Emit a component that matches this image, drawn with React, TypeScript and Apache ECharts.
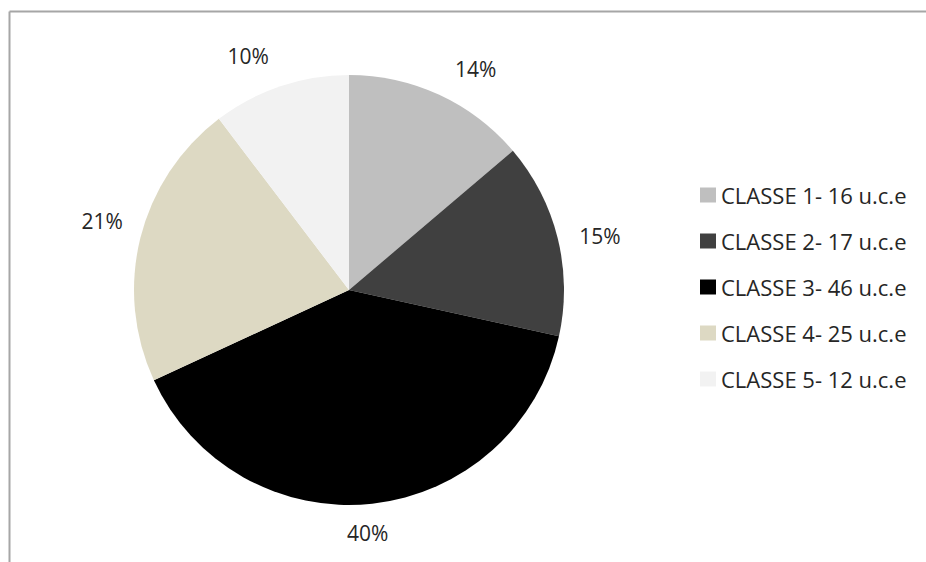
import React, { useEffect, useRef } from "react";
import * as echarts from "echarts";

const categories = [
  "CLASSE 1- 16 u.c.e",
  "CLASSE 2- 17 u.c.e",
  "CLASSE 3- 46 u.c.e",
  "CLASSE 4- 25 u.c.e",
  "CLASSE 5- 12 u.c.e",
];
const values = [16, 17, 46, 25, 12];
const percentLabels = ["14%", "15%", "40%", "21%", "10%"];
const colors = ["#bfbfbf", "#404040", "#000000", "#ddd9c3", "#f2f2f2"];
const labelOffsets: [number, number][] = [
  [19, 12],
  [2, 8],
  [-9, -12],
  [2, -7],
  [-19, 9],
];

export default function App() {
  const ref = useRef<HTMLDivElement>(null);
  useEffect(() => {
    if (!ref.current) return;
    const chart = echarts.init(ref.current, null, { renderer: "svg" });
    const center = [349, 290];
    chart.setOption({
      animation: false,
      backgroundColor: "#ffffff",
      color: colors,
      graphic: [
        {
          type: "line",
          shape: { x1: 9.5, y1: 11.5, x2: 926, y2: 11.5 },
          style: { stroke: "#a6a6a6", lineWidth: 2 },
          silent: true,
        },
        {
          type: "line",
          shape: { x1: 9.5, y1: 11.5, x2: 9.5, y2: 562 },
          style: { stroke: "#a6a6a6", lineWidth: 2 },
          silent: true,
        },
      ],
      legend: {
        orient: "vertical",
        left: 700,
        top: 184,
        padding: 0,
        itemWidth: 16,
        itemHeight: 15,
        itemGap: 24,
        icon: "rect",
        data: categories,
        textStyle: {
          fontFamily: "Open Sans",
          fontSize: 22,
          lineHeight: 22,
          color: "#262626",
          padding: [0, 0, 0, 0],
        },
        selectedMode: false,
      },
      series: [
        {
          type: "pie",
          center,
          radius: 215,
          startAngle: 90,
          clockwise: true,
          silent: true,
          label: { show: false },
          labelLine: { show: false },
          itemStyle: { borderWidth: 0 },
          data: categories.map((name, i) => ({
            name,
            value: values[i],
            itemStyle: { color: colors[i] },
          })),
        },
        {
          type: "pie",
          center,
          radius: [215, 292],
          startAngle: 90,
          clockwise: true,
          silent: true,
          labelLine: { show: false },
          itemStyle: { color: "rgba(0,0,0,0)", borderWidth: 0 },
          data: categories.map((name, i) => ({
            name: name + " ",
            value: values[i],
            label: {
              show: true,
              position: "inside",
              formatter: percentLabels[i],
              fontFamily: "Open Sans",
              fontSize: 21,
              color: "#262626",
              offset: labelOffsets[i],
            },
          })),
        },
      ],
    });
    return () => chart.dispose();
  }, []);
  return (
    <div
      ref={ref}
      style={{ position: "fixed", left: 0, top: 0, width: 926, height: 562 }}
    />
  );
}
